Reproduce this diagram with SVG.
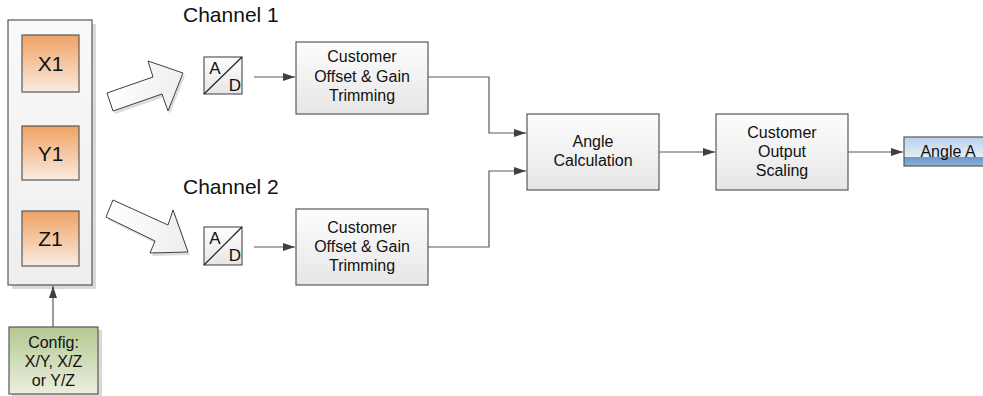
<svg xmlns="http://www.w3.org/2000/svg" width="983" height="396" viewBox="0 0 983 396">
<defs>
<linearGradient id="gBox" x1="0" y1="0" x2="0" y2="1"><stop offset="0" stop-color="#fdfdfd"/><stop offset="1" stop-color="#e6e6e6"/></linearGradient>
<linearGradient id="gCont" x1="0" y1="0" x2="0" y2="1"><stop offset="0" stop-color="#f9f9f9"/><stop offset="1" stop-color="#eeeeee"/></linearGradient>
<linearGradient id="gOrange" x1="0" y1="0" x2="0" y2="1"><stop offset="0" stop-color="#f0a264"/><stop offset="1" stop-color="#f9ebe0"/></linearGradient>
<linearGradient id="gGreen" x1="0" y1="0" x2="0" y2="1"><stop offset="0" stop-color="#b5c891"/><stop offset="1" stop-color="#eaefdf"/></linearGradient>
<linearGradient id="gBlue" x1="0" y1="0" x2="0" y2="1"><stop offset="0" stop-color="#b9d0ea"/><stop offset="0.7" stop-color="#e6eef7"/><stop offset="0.7" stop-color="#6d9acb"/><stop offset="1" stop-color="#8cb0d8"/></linearGradient>
<linearGradient id="gArrow" x1="0" y1="0" x2="1" y2="0"><stop offset="0" stop-color="#ffffff"/><stop offset="1" stop-color="#eeeeee"/></linearGradient>
<marker id="ah" markerWidth="12" markerHeight="8" refX="12" refY="4" orient="auto" markerUnits="userSpaceOnUse"><path d="M0,0 L12,4 L0,8 Z" fill="#404040"/></marker>
</defs>
<style>
.box{fill:url(#gBox);stroke:#595959;stroke-width:1.2}
.t{font-family:"Liberation Sans",Arial,sans-serif;font-size:16px;fill:#111;text-anchor:middle}
.ad{font-family:"Liberation Sans",Arial,sans-serif;font-size:17px;fill:#111;text-anchor:middle}
.big{font-family:"Liberation Sans",Arial,sans-serif;font-size:21px;fill:#111}
.lbl{font-family:"Liberation Sans",Arial,sans-serif;font-size:21px;fill:#111;text-anchor:middle}
.con{fill:none;stroke:#595959;stroke-width:1.2}
.shadow{fill:#d9d9d9}
.blk{fill:url(#gArrow);stroke:#404040;stroke-width:1}
</style>

<g id="sensor-container">
<rect class="shadow" x="12" y="24" width="84" height="265"/>
<rect x="8" y="20" width="84" height="265" fill="url(#gCont)" stroke="#595959" stroke-width="1.2"/>
</g>
<g id="x1"><rect x="22" y="35" width="57" height="57" fill="url(#gOrange)" stroke="#595959" stroke-width="1.2"/><text class="lbl" x="50.5" y="71">X1</text></g>
<g id="y1"><rect x="22" y="126" width="57" height="54" fill="url(#gOrange)" stroke="#595959" stroke-width="1.2"/><text class="lbl" x="50.5" y="161">Y1</text></g>
<g id="z1"><rect x="22" y="211" width="57" height="55" fill="url(#gOrange)" stroke="#595959" stroke-width="1.2"/><text class="lbl" x="50.5" y="246">Z1</text></g>

<g id="config">
<rect class="shadow" x="12" y="330" width="90" height="67"/>
<rect x="9" y="327" width="89" height="67" fill="url(#gGreen)" stroke="#595959" stroke-width="1.2"/>
<text class="t" x="53.5" y="348">Config:</text>
<text class="t" x="53.5" y="367">X/Y, X/Z</text>
<text class="t" x="53.5" y="386">or Y/Z</text>
</g>

<g id="block-arrow-1">
<path d="M109,96 L155,80 L150,64 L185,76 L170,114 L164,97 L115,114 Z" fill="#dcdcdc"/>
<path class="blk" d="M107,93 L153,77 L148,61 L183,73 L168,111 L162,94 L113,111 Z"/>
</g>
<g id="block-arrow-2">
<path d="M115,203 L170,228 L175,213 L190,255 L152,256 L157,244 L108,220 Z" fill="#dcdcdc"/>
<path class="blk" d="M113,200 L168,225 L173,210 L188,252 L150,253 L155,241 L106,217 Z"/>
</g>

<g id="channel1-label"><text class="big" x="183" y="22">Channel 1</text></g>
<g id="channel2-label"><text class="big" x="183" y="194">Channel 2</text></g>

<g id="adc1">
<rect x="204" y="57" width="38" height="37" class="box"/>
<line x1="204" y1="94" x2="242" y2="57" stroke="#222" stroke-width="1.2"/>
<text class="ad" x="215" y="74">A</text><text class="ad" x="235" y="91">D</text>
</g>
<g id="adc2">
<rect x="204" y="227" width="38" height="38" class="box"/>
<line x1="204" y1="265" x2="242" y2="227" stroke="#222" stroke-width="1.2"/>
<text class="ad" x="215" y="244">A</text><text class="ad" x="235" y="261">D</text>
</g>

<g id="trim1">
<rect x="296" y="42" width="132" height="72" class="box"/>
<text class="t" x="362" y="62">Customer</text>
<text class="t" x="362" y="82">Offset &amp; Gain</text>
<text class="t" x="362" y="101">Trimming</text>
</g>
<g id="trim2">
<rect x="296" y="209" width="132" height="76" class="box"/>
<text class="t" x="362" y="233">Customer</text>
<text class="t" x="362" y="252">Offset &amp; Gain</text>
<text class="t" x="362" y="271">Trimming</text>
</g>

<g id="angle-calc">
<rect x="527" y="114" width="132" height="76" class="box"/>
<text class="t" x="593" y="147">Angle</text>
<text class="t" x="593" y="166">Calculation</text>
</g>

<g id="output-scaling">
<rect x="716" y="114" width="132" height="76" class="box"/>
<text class="t" x="782" y="138">Customer</text>
<text class="t" x="782" y="157">Output</text>
<text class="t" x="782" y="176">Scaling</text>
</g>

<g id="angle-a">
<rect x="904" y="137" width="82" height="29" fill="url(#gBlue)" stroke="#595959" stroke-width="1.2"/>
<text class="t" x="948" y="157">Angle A</text>
</g>

<g id="connectors">
<line class="con" x1="53" y1="327" x2="53" y2="286" marker-end="url(#ah)"/>
<line class="con" x1="254" y1="77" x2="295" y2="77" marker-end="url(#ah)"/>
<line class="con" x1="254" y1="247" x2="295" y2="247" marker-end="url(#ah)"/>
<polyline class="con" points="428,77 489,77 489,133 526,133" marker-end="url(#ah)"/>
<polyline class="con" points="428,247 489,247 489,171 526,171" marker-end="url(#ah)"/>
<line class="con" x1="659" y1="152" x2="715" y2="152" marker-end="url(#ah)"/>
<line class="con" x1="848" y1="152" x2="903" y2="152" marker-end="url(#ah)"/>
</g>
</svg>
